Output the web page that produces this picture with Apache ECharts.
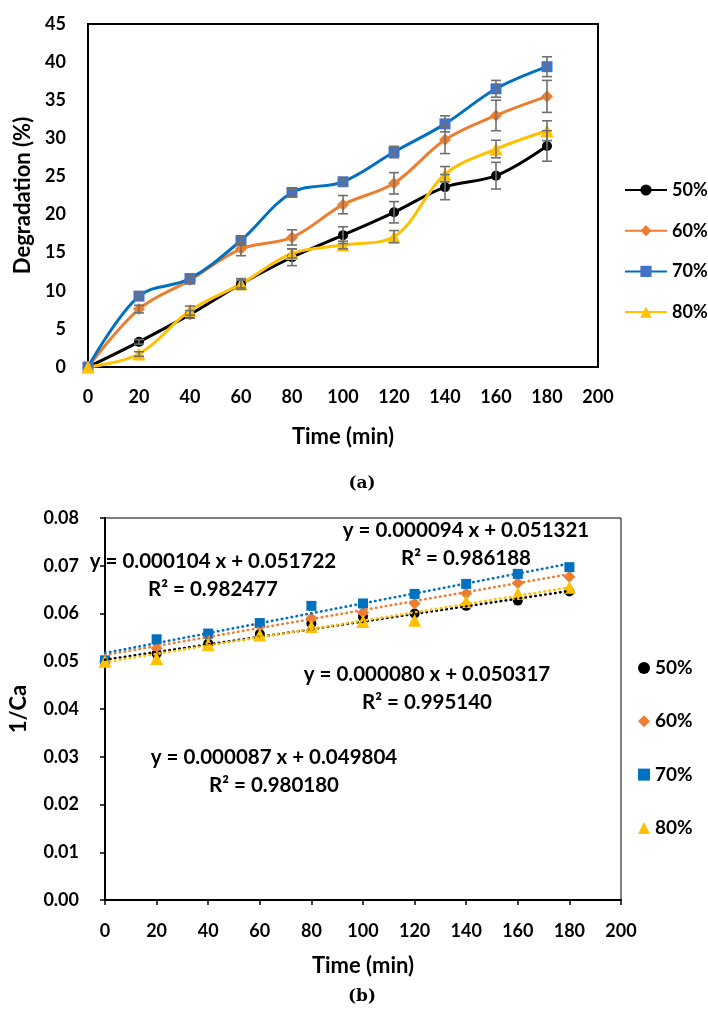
<!DOCTYPE html>
<html><head><meta charset="utf-8">
<script src="https://cdn.jsdelivr.net/npm/echarts@6/dist/echarts.min.js"></script>
<style>html,body{margin:0;padding:0;background:#fff}#c{width:708px;height:1014px}</style>
</head><body><div id="c"></div>
<script>
// ---------- data ----------
const seriesNames = ['50%', '60%', '70%', '80%'];
const timeMin = [0, 20, 40, 60, 80, 100, 120, 140, 160, 180];

// (a) Degradation (%)
const degr50 = [0, 3.3, 6.9, 10.9, 14.4, 17.3, 20.3, 23.6, 25.1, 29.0];
const degr60 = [0, 7.6, 11.4, 15.5, 17.0, 21.3, 24.1, 29.8, 33.0, 35.5];
const degr70 = [0, 9.3, 11.6, 16.6, 22.9, 24.3, 28.2, 31.9, 36.5, 39.4];
const degr80 = [0, 1.7, 7.4, 10.9, 14.9, 16.0, 17.1, 25.3, 28.6, 31.0];
// (a) error bars (+/-)
const err50 = [0, 0.3, 0.5, 0.7, 1.1, 1.1, 1.4, 1.65, 1.75, 2.0];
const err60 = [0, 0.5, 0.5, 0.9, 1.0, 1.2, 1.4, 1.8, 2.0, 2.1];
const err70 = [0, 0.4, 0.4, 0.5, 0.5, 0.5, 0.75, 1.05, 1.1, 1.3];
const err80 = [0, 0.3, 0.6, 0.5, 0.6, 0.5, 0.8, 1.0, 1.15, 1.3];

// (b) 1/Ca
const invCa50 = [0.0500, 0.0516, 0.0537, 0.0557, 0.0579, 0.0593, 0.0600, 0.0616, 0.0627, 0.0646];
const invCa60 = [0.0500, 0.0527, 0.0553, 0.0575, 0.0590, 0.0602, 0.0621, 0.0642, 0.0664, 0.0677];
const invCa70 = [0.0502, 0.0546, 0.0558, 0.0580, 0.0616, 0.0621, 0.0641, 0.0662, 0.0683, 0.0697];
const invCa80 = [0.0500, 0.0506, 0.0535, 0.0555, 0.0573, 0.0583, 0.0586, 0.0625, 0.0642, 0.0655];
// (b) linear trendline coefficients, as printed on the chart
const trendSlope = [0.000080, 0.000094, 0.000104, 0.000087];
const trendIntercept = [0.050317, 0.051321, 0.051722, 0.049804];
const trendR2 = ['0.995140', '0.986188', '0.982477', '0.980180'];

// ---------- styling ----------
const lineColors = ['#000000', '#ED7D31', '#0070C0', '#FFC000'];
const markColorsA = ['#000000', '#ED7D31', '#4472C4', '#FFC000'];
const markColorsB = ['#000000', '#ED7D31', '#0070C0', '#FFC000'];
const symbols = ['circle', 'diamond', 'rect', 'triangle'];
const symSizesA = [10, 12, 11, 13];
const symSizesB = [10, 12, 10, 13];
const FONT = 'Lato';

const degr = [degr50, degr60, degr70, degr80];
const errs = [err50, err60, err70, err80];
const invCa = [invCa50, invCa60, invCa70, invCa80];

const chart = echarts.init(document.getElementById('c'), null, {renderer: 'canvas'});

const labelStyle = {fontFamily: FONT, fontWeight: 'bold', fontSize: 18, color: '#000'};
const nameStyle = {fontFamily: FONT, fontWeight: 'bold', fontSize: 22, color: '#000'};

const series = [];
// (a) lines
degr.forEach((arr, i) => {
  series.push({
    name: seriesNames[i], type: 'line', xAxisIndex: 0, yAxisIndex: 0,
    data: timeMin.map((t, k) => [t, arr[k]]),
    smooth: 0.35, symbol: symbols[i], symbolSize: symSizesA[i], showSymbol: true,
    lineStyle: {color: lineColors[i], width: 3},
    itemStyle: {color: markColorsA[i], borderWidth: 0},
    z: 3
  });
});
// (a) error bars
degr.forEach((arr, i) => {
  const d = [];
  timeMin.forEach((t, k) => { if (errs[i][k] > 0) d.push([t, arr[k] - errs[i][k], arr[k] + errs[i][k]]); });
  series.push({
    type: 'custom', xAxisIndex: 0, yAxisIndex: 0, silent: true, z: 4,
    encode: {x: 0, y: [1, 2]},
    data: d,
    renderItem: (params, api) => {
      const x = api.value(0);
      const p1 = api.coord([x, api.value(1)]);
      const p2 = api.coord([x, api.value(2)]);
      const w = 5;
      const st = {stroke: '#707070', lineWidth: 1.6};
      return {type: 'group', children: [
        {type: 'line', shape: {x1: p1[0], y1: p1[1], x2: p2[0], y2: p2[1]}, style: st},
        {type: 'line', shape: {x1: p1[0] - w, y1: p1[1], x2: p1[0] + w, y2: p1[1]}, style: st},
        {type: 'line', shape: {x1: p2[0] - w, y1: p2[1], x2: p2[0] + w, y2: p2[1]}, style: st}
      ]};
    }
  });
});
// (b) scatter
invCa.forEach((arr, i) => {
  series.push({
    name: seriesNames[i], type: 'scatter', xAxisIndex: 1, yAxisIndex: 1,
    data: timeMin.map((t, k) => [t, arr[k]]),
    symbol: symbols[i], symbolSize: symSizesB[i],
    itemStyle: {color: markColorsB[i], opacity: 1},
    z: 3
  });
});
// (b) trendlines
invCa.forEach((arr, i) => {
  const x0 = timeMin[0], x1 = timeMin[timeMin.length - 1];
  series.push({
    type: 'line', xAxisIndex: 1, yAxisIndex: 1, silent: true, symbol: 'none',
    data: [[x0, trendIntercept[i] + trendSlope[i] * x0], [x1, trendIntercept[i] + trendSlope[i] * x1]],
    lineStyle: {color: lineColors[i], width: 2.6, type: [0.5, 4.5], cap: 'round'},
    z: 5
  });
});

function fmt(v, d) { return v.toFixed(d); }
const eqPos = [[427, 674], [466, 530], [213, 561], [274, 757]];
const graphics = [];
trendSlope.forEach((m, i) => {
  const txt1 = 'y = ' + fmt(m, 6) + ' x + ' + fmt(trendIntercept[i], 6);
  const txt2 = 'R\u00B2 = ' + trendR2[i];
  graphics.push({type: 'text', x: eqPos[i][0], y: eqPos[i][1], z: 10,
    style: {text: txt1, textAlign: 'center', textVerticalAlign: 'middle', fontFamily: FONT, fontWeight: 'bold', fontSize: 20.5, fill: '#000'}});
  graphics.push({type: 'text', x: eqPos[i][0], y: eqPos[i][1] + 28, z: 10,
    style: {text: txt2, textAlign: 'center', textVerticalAlign: 'middle', fontFamily: FONT, fontWeight: 'bold', fontSize: 20.5, fill: '#000'}});
});
graphics.push({type: 'text', x: 362, y: 484, style: {text: '(a)', textAlign: 'center', textVerticalAlign: 'middle', fontFamily: 'DejaVu Serif', fontWeight: 'bold', fontSize: 17, fill: '#000'}});
graphics.push({type: 'text', x: 362, y: 997, style: {text: '(b)', textAlign: 'center', textVerticalAlign: 'middle', fontFamily: 'DejaVu Serif', fontWeight: 'bold', fontSize: 17, fill: '#000'}});

const option = {
  animation: false,
  backgroundColor: '#fff',
  grid: [
    {left: 88, top: 24, width: 510, height: 343, show: true, borderColor: '#000', borderWidth: 2, backgroundColor: 'transparent'},
    {left: 105, top: 518, width: 516, height: 382, show: true, borderColor: '#000', borderWidth: 1, backgroundColor: 'transparent'}
  ],
  xAxis: [
    {type: 'value', gridIndex: 0, min: 0, max: 200, interval: 20,
      name: 'Time (min)', nameLocation: 'middle', nameGap: 59, nameTextStyle: nameStyle,
      axisLine: {show: true, onZero: false, lineStyle: {color: '#000', width: 2}},
      axisTick: {show: false}, splitLine: {show: false},
      axisLabel: Object.assign({margin: 21}, labelStyle)},
    {type: 'value', gridIndex: 1, min: 0, max: 200, interval: 20,
      name: 'Time (min)', nameLocation: 'middle', nameGap: 55, nameTextStyle: nameStyle,
      axisLine: {show: true, onZero: false, lineStyle: {color: '#000', width: 2}},
      axisTick: {show: true, inside: false, length: 5, lineStyle: {color: '#000', width: 1.5}}, splitLine: {show: false},
      axisLabel: Object.assign({margin: 22}, labelStyle)}
  ],
  yAxis: [
    {type: 'value', gridIndex: 0, min: 0, max: 45, interval: 5,
      name: 'Degradation (%)', nameLocation: 'middle', nameGap: 51, nameRotate: 90, nameTextStyle: nameStyle,
      axisLine: {show: true, onZero: false, lineStyle: {color: '#000', width: 2}},
      axisTick: {show: false}, splitLine: {show: false},
      axisLabel: Object.assign({margin: 22}, labelStyle)},
    {type: 'value', gridIndex: 1, min: 0, max: 0.08, interval: 0.01,
      name: '1/Ca', nameLocation: 'middle', nameGap: 75, nameRotate: 90, nameTextStyle: nameStyle,
      axisLine: {show: true, onZero: false, lineStyle: {color: '#000', width: 2}},
      axisTick: {show: true, inside: false, length: 5, lineStyle: {color: '#000', width: 1.5}}, splitLine: {show: false},
      axisLabel: Object.assign({margin: 26, formatter: v => v.toFixed(2)}, labelStyle)}
  ],
  legend: [
    {orient: 'vertical', left: 619, top: 175, itemWidth: 42, itemHeight: 14, itemGap: 20.7, selectedMode: false,
      data: seriesNames.slice(),
      textStyle: {fontFamily: FONT, fontWeight: 'bold', fontSize: 18, color: '#000', lineHeight: 20}},
    {orient: 'vertical', left: 633, top: 653, itemWidth: 12, itemHeight: 12, itemGap: 33.3, selectedMode: false,
      data: seriesNames.map((n, i) => ({name: n, icon: symbols[i], itemStyle: {color: markColorsB[i]}})),
      textStyle: {fontFamily: FONT, fontWeight: 'bold', fontSize: 19, color: '#000', lineHeight: 20}}
  ],
  graphic: graphics,
  series: series
};
chart.setOption(option);
</script>
</body></html>
